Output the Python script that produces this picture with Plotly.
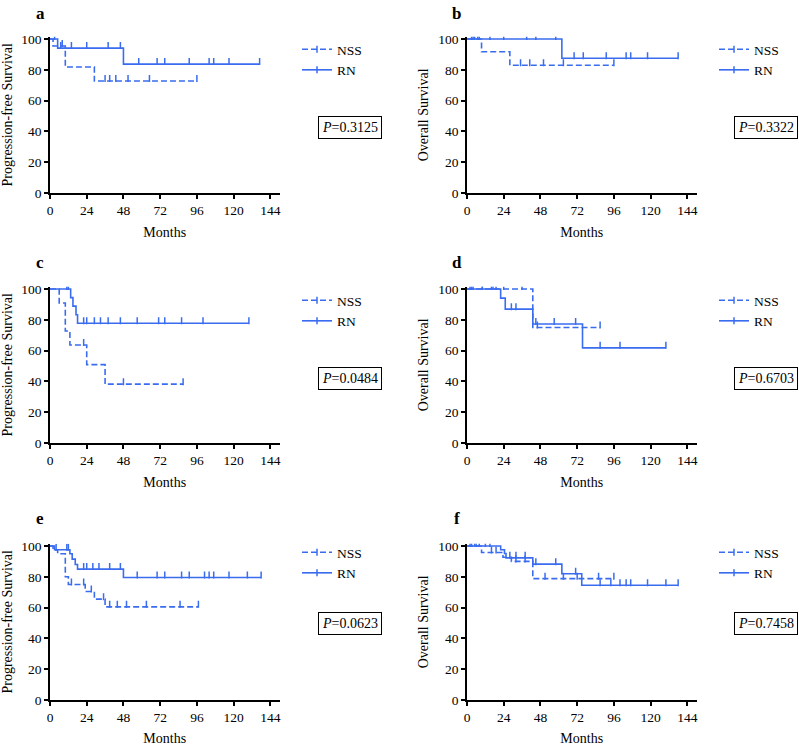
import plotly.graph_objects as go

W, H = 799, 746
BLUE = "#3a6cf0"
SERIF = "Liberation Serif"

X_TICKS = [0, 24, 48, 72, 96, 120, 144]
Y_TICKS = [0, 20, 40, 60, 80, 100]
GROUPS = ["NSS", "RN"]

# ---- panel a (PFS) ----
A_NSS_T = [0, 2, 10, 29]
A_NSS_S = [100, 95.5, 81.8, 72.7]
A_NSS_C = [8, 36, 39, 43, 51, 65, 96]
A_RN_T = [0, 5, 48]
A_RN_S = [100, 94.1, 83.7]
A_RN_C = [3, 7, 14, 24, 38, 46, 58, 70, 75, 91, 104, 107, 117, 137]
# ---- panel b (OS) ----
B_NSS_T = [0, 9.5, 28]
B_NSS_S = [100, 91.7, 83.0]
B_NSS_C = [4, 7, 35, 41, 50, 63, 96]
B_RN_T = [0, 62]
B_RN_S = [100, 87.5]
B_RN_C = [3, 5, 8, 15, 24, 39, 45, 58, 70, 76, 91, 104, 107, 118, 138]
# ---- panel c (PFS) ----
C_NSS_T = [0, 6, 10, 13, 24, 36]
C_NSS_S = [100, 90.9, 72.7, 63.6, 50.9, 38.2]
C_NSS_C = [22, 48, 87]
C_RN_T = [0, 13.5, 15, 17, 18]
C_RN_S = [100, 94.4, 88.9, 83.3, 77.8]
C_RN_C = [11, 12, 22, 24, 29, 33, 38, 46, 57, 71, 75, 86, 100, 130]
# ---- panel d (OS) ----
D_NSS_T = [0, 43]
D_NSS_S = [100, 75.0]
D_NSS_C = [2, 4, 10, 16, 19, 24, 36, 46, 87]
D_RN_T = [0, 22, 25, 43, 75.5]
D_RN_S = [100, 94.1, 86.9, 77.3, 61.8]
D_RN_C = [3, 10, 17, 29, 32, 45, 57, 71, 87, 100, 130]
# ---- panel e (PFS) ----
E_NSS_T = [0, 2, 5, 10, 12, 23, 29, 36]
E_NSS_S = [100, 97.5, 95.0, 80.0, 75.0, 70.5, 65.5, 60.5]
E_NSS_C = [14, 22, 27, 35, 39, 44, 50, 63, 85, 97]
E_RN_T = [0, 3, 13, 14.5, 16.5, 18, 48]
E_RN_S = [100, 97.6, 95.0, 91.5, 88.0, 85.0, 79.5]
E_RN_C = [4, 11, 12, 22, 24, 28, 32, 39, 46, 57, 70, 75, 86, 91, 101, 104, 107, 117, 129, 138]
# ---- panel f (OS) ----
F_NSS_T = [0, 9.5, 23.5, 29, 43]
F_NSS_S = [100, 95.8, 92.7, 90.0, 78.8]
F_NSS_C = [3, 6, 16, 19, 32, 38, 51, 63, 72, 86, 96]
F_RN_T = [0, 22, 24.5, 25.5, 43, 62, 75]
F_RN_S = [100, 97.6, 95.1, 92.3, 88.2, 82.0, 74.5]
F_RN_C = [2, 5, 8, 12, 15, 28, 32, 38, 45, 58, 71, 87, 94, 100, 104, 107, 118, 130, 138]

LETTERS = ["a", "b", "c", "d", "e", "f"]
YTITLES = ["Progression-free Survival", "Overall Survival"] * 3
PVALUES = ["0.3125", "0.3322", "0.0484", "0.6703", "0.0623", "0.7458"]
SERIES = [
    ((A_NSS_T, A_NSS_S, A_NSS_C), (A_RN_T, A_RN_S, A_RN_C)),
    ((B_NSS_T, B_NSS_S, B_NSS_C), (B_RN_T, B_RN_S, B_RN_C)),
    ((C_NSS_T, C_NSS_S, C_NSS_C), (C_RN_T, C_RN_S, C_RN_C)),
    ((D_NSS_T, D_NSS_S, D_NSS_C), (D_RN_T, D_RN_S, D_RN_C)),
    ((E_NSS_T, E_NSS_S, E_NSS_C), (E_RN_T, E_RN_S, E_RN_C)),
    ((F_NSS_T, F_NSS_S, F_NSS_C), (F_RN_T, F_RN_S, F_RN_C)),
]

# layout geometry (pixels)
COL_X = [(50, 279.5), (467, 696.5)]
ROW_ZERO = [193, 443, 700]
PX_PER_UNIT = 1.54
Y_TOP = 101.5
LEGEND_TOP = [34, 285, 537]
PBOX_Y = [127, 378, 623]
PBOX_RIGHT = [382, 798]
LETTER_Y = [13, 262, 518]
TICK_SIZE = 5


def px(x):
    return x / W


def py(y):
    return 1 - y / H


def step_at(times, surv, c):
    s = surv[0]
    for t, v in zip(times, surv):
        if t <= c:
            s = v
    return s


fig = go.Figure()
layout = {}
annotations = []
tick_lift = (TICK_SIZE / 2) / PX_PER_UNIT

for i in range(6):
    r, c = divmod(i, 2)
    n = i + 1
    xa = "x" if n == 1 else f"x{n}"
    ya = "y" if n == 1 else f"y{n}"
    leg = "legend" if n == 1 else f"legend{n}"
    x0, x1 = COL_X[c]
    zero = ROW_ZERO[r]
    top = zero - PX_PER_UNIT * Y_TOP
    common = dict(showline=True, linecolor="black", linewidth=1.5, ticks="outside",
                  ticklen=4, tickwidth=1.5, tickcolor="black", showgrid=False,
                  zeroline=False, tickfont=dict(family=SERIF, size=13.5, color="black"))
    layout["xaxis" if n == 1 else f"xaxis{n}"] = dict(
        domain=[px(x0), px(x1)], anchor=ya, range=[0, 150], tickvals=X_TICKS,
        title=dict(text="Months", font=dict(family=SERIF, size=14, color="black"), standoff=10),
        **common)
    layout["yaxis" if n == 1 else f"yaxis{n}"] = dict(
        domain=[py(zero), py(top)], anchor=xa, range=[0, Y_TOP], tickvals=Y_TICKS,
        title=dict(text=YTITLES[i], font=dict(family=SERIF, size=14, color="black"), standoff=6),
        **common)
    layout[leg] = dict(
        x=px(x0 + 247), y=py(LEGEND_TOP[r]), xanchor="left", yanchor="top",
        font=dict(family=SERIF, size=13.5, color="black"), bgcolor="rgba(0,0,0,0)",
        itemwidth=30, tracegroupgap=0)
    for g, (t, s, cs) in zip(GROUPS, SERIES[i]):
        dash = "6px,3px" if g == "NSS" else "solid"
        end = max(max(t), max(cs))
        xs = list(t) + [end]
        ys = list(s) + [s[-1]]
        fig.add_trace(go.Scatter(
            x=xs, y=ys, mode="lines", name=g, xaxis=xa, yaxis=ya, showlegend=False,
            line=dict(shape="hv", color=BLUE, width=1.6, dash=dash), hoverinfo="skip"))
        fig.add_trace(go.Scatter(
            x=cs, y=[step_at(t, s, cc) + tick_lift for cc in cs], mode="markers",
            xaxis=xa, yaxis=ya, showlegend=False, hoverinfo="skip",
            marker=dict(symbol="line-ns", size=TICK_SIZE, color=BLUE,
                        line=dict(color=BLUE, width=1.5))))
        # legend entry
        fig.add_trace(go.Scatter(
            x=[None], y=[None], mode="lines+markers", name=g, xaxis=xa, yaxis=ya, legend=leg,
            line=dict(color=BLUE, width=1.6, dash=dash),
            marker=dict(symbol="line-ns", size=TICK_SIZE, color=BLUE,
                        line=dict(color=BLUE, width=1.5))))
    annotations.append(dict(
        text="<i>P</i>=" + PVALUES[i], x=px(PBOX_RIGHT[c]), y=py(PBOX_Y[r]),
        xref="paper", yref="paper", xanchor="right", yanchor="middle", showarrow=False,
        font=dict(family=SERIF, size=14, color="black"), bordercolor="black",
        borderwidth=1, borderpad=3))
    annotations.append(dict(
        text=f"<b>{LETTERS[i]}</b>", x=px(x0 - 10), y=py(LETTER_Y[r]),
        xref="paper", yref="paper", xanchor="center", yanchor="middle", showarrow=False,
        font=dict(family=SERIF, size=17, color="black")))

fig.update_layout(
    width=W, height=H, margin=dict(l=0, r=0, t=0, b=0, autoexpand=False),
    paper_bgcolor="white", plot_bgcolor="white", showlegend=True,
    annotations=annotations, **layout)

# remove the default 8px page margin so the figure fills the window exactly
fig.write_html("out.html", config={"displayModeBar": False},
               post_script="document.body.style.margin='0';")
